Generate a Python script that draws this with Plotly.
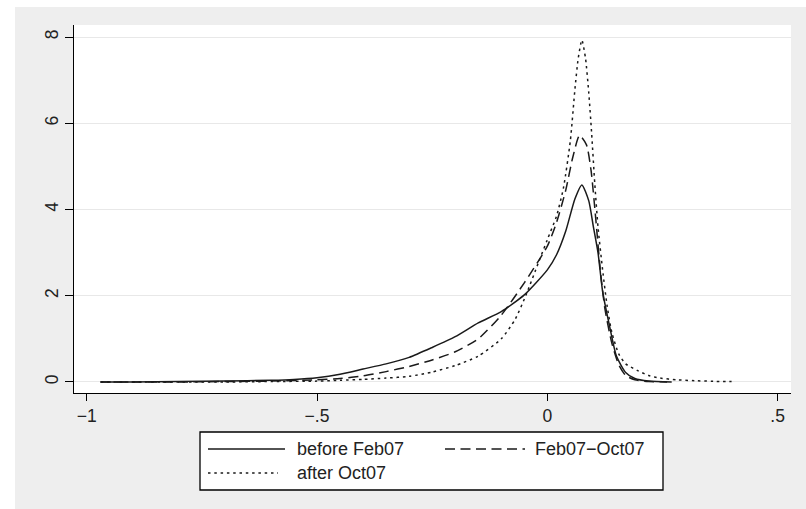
import plotly.graph_objects as go

# ---- data ----
before_x = [-0.97, -0.9, -0.8, -0.7, -0.6, -0.55, -0.5, -0.45, -0.4, -0.35, -0.3, -0.25, -0.2, -0.15, -0.1,
            -0.05, 0.0, 0.02, 0.04, 0.06, 0.075, 0.09, 0.10, 0.11, 0.12, 0.135, 0.15, 0.17, 0.19, 0.22, 0.27]
before_y = [0.0, 0.0, 0.01, 0.02, 0.04, 0.06, 0.1, 0.18, 0.3, 0.42, 0.57, 0.8, 1.05, 1.37, 1.63,
            2.02, 2.6, 2.95, 3.5, 4.25, 4.57, 4.2, 3.6, 3.0, 2.1, 1.3, 0.6, 0.22, 0.08, 0.02, 0.0]

mid_x = [-0.97, -0.8, -0.7, -0.6, -0.5, -0.45, -0.4, -0.35, -0.3, -0.25, -0.2, -0.15, -0.1, -0.05,
         0.0, 0.02, 0.04, 0.055, 0.07, 0.085, 0.095, 0.105, 0.115, 0.125, 0.14, 0.155, 0.17, 0.19, 0.22, 0.26]
mid_y = [0.0, 0.0, 0.01, 0.02, 0.05, 0.08, 0.14, 0.24, 0.36, 0.51, 0.7, 1.0, 1.55, 2.3,
         3.15, 3.7, 4.45, 5.2, 5.72, 5.5, 4.9, 3.8, 2.6, 1.7, 0.9, 0.4, 0.15, 0.05, 0.01, 0.0]

after_x = [-0.97, -0.7, -0.6, -0.5, -0.45, -0.4, -0.35, -0.3, -0.25, -0.2, -0.15, -0.1, -0.07, -0.045,
           -0.02, 0.0, 0.02, 0.035, 0.05, 0.06, 0.067, 0.075, 0.083, 0.09, 0.096, 0.103, 0.11, 0.12,
           0.13, 0.14, 0.155, 0.17, 0.195, 0.22, 0.245, 0.28, 0.32, 0.36, 0.4]
after_y = [0.0, 0.0, 0.01, 0.02, 0.04, 0.06, 0.09, 0.13, 0.23, 0.38, 0.6, 1.0, 1.45, 2.05,
           2.75, 3.3, 3.85, 4.5, 5.6, 6.8, 7.5, 7.93, 7.5, 6.7, 5.8, 4.6, 3.6, 2.6,
           1.75, 1.15, 0.65, 0.42, 0.27, 0.15, 0.09, 0.05, 0.03, 0.015, 0.01]

series_names = ["before Feb07", "Feb07\u2212Oct07", "after Oct07"]
x_tickvals = [-1, -0.5, 0, 0.5]
x_ticktext = ["\u22121", "\u2212.5", "0", ".5"]
y_tickvals = [0, 2, 4, 6, 8]
y_ticktext = ["0", "2", "4", "6", "8"]

FONT = "Liberation Sans, Arial, sans-serif"
LINE = "#1a1a1a"
W, H = 806, 509
ML, MR, MT, MB = 74, 15, 25, 116
PW, PH = W - ML - MR, H - MT - MB

def px2x(p):
    return (p - ML) / PW

def py2y(p):
    return (H - MB - p) / PH

DASH = "10px,5.5px"
DOT = "2.5px,3.8px"

fig = go.Figure()
styles = ["solid", DASH, DOT]
for xs, ys, nm, ds in zip([before_x, mid_x, after_x], [before_y, mid_y, after_y], series_names, styles):
    fig.add_trace(go.Scatter(x=xs, y=ys, mode="lines", name=nm, showlegend=False,
                             line=dict(color=LINE, width=1.5, dash=ds, shape="spline", smoothing=0.6)))

shapes = []
# white strips at top and left edge
shapes.append(dict(type="rect", xref="paper", yref="paper", x0=px2x(0), x1=px2x(W), y0=py2y(7), y1=py2y(0),
                   fillcolor="white", line=dict(width=0), layer="below"))
shapes.append(dict(type="rect", xref="paper", yref="paper", x0=px2x(0), x1=px2x(15), y0=py2y(H), y1=py2y(0),
                   fillcolor="white", line=dict(width=0), layer="below"))
# legend box
shapes.append(dict(type="rect", xref="paper", yref="paper", x0=px2x(200), x1=px2x(663), y0=py2y(490), y1=py2y(432),
                   fillcolor="white", line=dict(color="black", width=1.3)))
# legend samples
row1, row2 = 449, 473
samples = [(208, 285, row1, "solid"), (445, 525, row1, DASH), (208, 278, row2, DOT)]
for x0, x1, yy, ds in samples:
    shapes.append(dict(type="line", xref="paper", yref="paper", x0=px2x(x0), x1=px2x(x1), y0=py2y(yy), y1=py2y(yy),
                       line=dict(color=LINE, width=1.5, dash=ds)))

annotations = []
for tx, yy, txt in [(297, row1, series_names[0]), (535, row1, series_names[1]), (297, row2, series_names[2])]:
    annotations.append(dict(xref="paper", yref="paper", x=px2x(tx), y=py2y(yy), text=txt, showarrow=False,
                            xanchor="left", yanchor="middle", xshift=-2,
                            font=dict(family=FONT, size=18, color="#222")))

fig.update_layout(
    width=W, height=H,
    margin=dict(l=ML, r=MR, t=MT, b=MB),
    paper_bgcolor="#eeeeee", plot_bgcolor="white",
    shapes=shapes, annotations=annotations,
    showlegend=False,
    font=dict(family=FONT, size=17, color="#222"),
    xaxis=dict(range=[-1.0276, 0.529], tickvals=x_tickvals, ticktext=x_ticktext,
               showgrid=False, zeroline=False, showline=True, linecolor="black", linewidth=1.3,
               ticks="outside", ticklen=7, tickwidth=1.3, tickcolor="black",
               tickfont=dict(family=FONT, size=17.5, color="#222")),
    yaxis=dict(range=[-0.256, 8.28], tickvals=y_tickvals, ticktext=y_ticktext, tickangle=-90,
               showgrid=True, gridcolor="#e8e8e8", gridwidth=1.3, zeroline=False,
               showline=True, linecolor="black", linewidth=1.3,
               ticks="outside", ticklen=8, tickwidth=1.3, tickcolor="black",
               tickfont=dict(family=FONT, size=17.5, color="#222")),
)

fig.write_html("out.html")
